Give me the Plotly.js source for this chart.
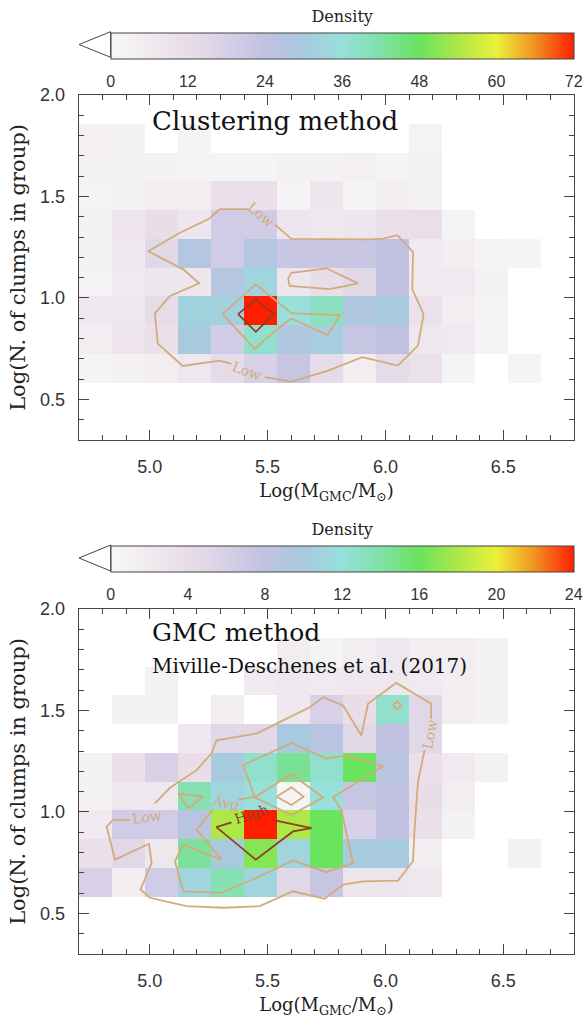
<!DOCTYPE html>
<html><head><meta charset="utf-8">
<script src="https://cdn.plot.ly/plotly-3.0.1.min.js"></script>
<style>body{margin:0;background:#fff}</style>
</head><body><div id="chart" style="width:585px;height:1018px"></div>
<script>
// ---------------- data ----------------
const xEdges = [4.70,4.84,4.98,5.12,5.26,5.40,5.54,5.68,5.82,5.96,6.10,6.24,6.38,6.52,6.66,6.80];
const yEdges = [0.300,0.442,0.583,0.725,0.867,1.008,1.150,1.292,1.433,1.575,1.717,1.858,2.000];
// rows from y=0.30 upward, columns from x=4.70 rightward; null = empty bin
const densityClustering = [
 [null,null,null,null,null,null,null,null,null,null,null,null,null,null,null],
 [null,null,null,null,null,null,null,null,null,null,null,null,null,null,null],
 [2,3,4.5,7.5,13,18,22.5,13,4.5,13,10,1.5,null,1.5,null],
 [4.5,9,10.5,30,19.5,37.5,28,31,22.5,24,7.5,6,2,null,null],
 [7.5,7.5,13,32,32,72,36,39,28,30,10,4.5,1.5,null,null],
 [2.5,6,8,8,27,33,8,12,15,24,6,6,3,null,null],
 [3,7,15,27,19.5,27,22,22,22,24,6,4.5,2,1,null],
 [3,9,12,8,19.5,19.5,8,7.5,8,10.5,11,1.5,null,null,null],
 [2,3,4.5,4.5,10.5,10.5,2,8,1,4.5,3,null,null,null,null],
 [3,3,3,1.5,1.5,2,3,3,3.5,1.5,3,null,null,null,null],
 [3.5,3,null,1.5,null,null,null,null,null,null,2.5,null,null,null,null],
 [null,null,null,null,null,null,null,null,null,null,null,null,null,null,null]
];
const densityGMC = [
 [null,null,null,null,null,null,null,null,null,null,null,null,null,null,null],
 [null,null,null,null,null,null,null,null,null,null,null,null,null,null,null],
 [6,1.5,6.5,11,13.5,11,5,7.5,3,3,2.5,null,null,null,null],
 [3.5,5,2.5,14.3,10,16.8,11,16,10,10,1.5,null,null,1,null],
 [2,6.5,6.5,8.7,18,24,18,16,6,8,3.5,1,null,null,null],
 [1,2.5,2.5,13.5,11,12,0.3,12,7.5,8,4,1.5,null,null,null],
 [1,3.5,6,4,10,12.5,14.5,12.5,16,8.7,3.5,2,1,null,null],
 [null,null,null,2.5,5,5,10,8.7,5,8,5,null,null,null,null],
 [null,1,1,null,1.5,null,2.5,6,4,12.5,5,1.5,1,null,null],
 [null,null,1,null,null,2,2.5,2,2.5,2.5,2,1.5,1,null,null],
 [null,null,null,null,null,null,1.5,0.5,1.5,2.5,1.5,1.5,1,null,null],
 [null,null,null,null,null,null,null,null,null,null,null,null,null,null,null]
];
const cbTicks1 = [0,6,12,18,24,30,36,42,48,54,60,66,72];
const cbLabels1 = ['0','','12','','24','','36','','48','','60','','72'];
const cbTicks2 = [0,2,4,6,8,10,12,14,16,18,20,22,24];
const cbLabels2 = ['0','','4','','8','','12','','16','','20','','24'];

// contour paths (panel 1: clustering method)
const clLowAx = [5.531,5.601,5.933,5.990,6.050,6.117,6.114,6.162,6.138,6.053,5.902,5.757,5.601,5.488];
const clLowAy = [1.361,1.291,1.289,1.292,1.309,1.227,1.042,0.920,0.765,0.667,0.708,0.642,0.588,0.610];
const clLowBx = [5.347,5.297,5.140,5.034,5.022,5.086,5.210,5.142,4.994,5.128,5.252,5.297,5.417];
const clLowBy = [0.675,0.691,0.665,0.775,0.924,1.010,1.072,1.141,1.230,1.321,1.390,1.438,1.438];
const clLowCx = [5.587,5.601,5.750,5.884,5.764,5.594,5.587];
const clLowCy = [1.095,1.124,1.146,1.072,1.043,1.059,1.095];
const clAvgX = [5.309,5.450,5.601,5.806,5.756,5.601,5.523,5.446,5.309];
const clAvgY = [0.920,1.067,0.925,0.915,0.817,0.899,0.830,0.749,0.920];
const clHighX = [5.375,5.450,5.526,5.450,5.375];
const clHighY = [0.920,0.994,0.920,0.833,0.920];

// contour paths (panel 2: GMC method)
const gmLowAx = [5.022,5.086,5.199,5.262,5.283,5.453,5.538,5.679,5.735,5.820,5.898,5.926,6.046,6.194,6.194];
const gmLowAy = [1.042,1.119,1.206,1.288,1.353,1.386,1.435,1.516,1.565,1.525,1.377,1.533,1.636,1.533,1.459];
const gmLowBx = [6.166,6.138,6.124,6.117,6.053,5.905,5.820,5.742,5.608,5.467,5.312,5.156,5.001,4.961,5.008,4.997,4.853,4.817,4.845,4.916];
const gmLowBy = [1.304,1.149,0.920,0.757,0.662,0.658,0.642,0.572,0.609,0.536,0.528,0.536,0.577,0.618,0.748,0.843,0.765,0.928,0.961,0.961];
const gmLowCx = [6.032,6.050,6.068,6.050,6.032];
const gmLowCy = [1.525,1.546,1.525,1.504,1.525];
const gmAvgAx = [5.375,5.446,5.396,5.601,5.749,5.834,5.990,5.778,5.813,5.862,5.749,5.608,5.453,5.305,5.142,5.107,5.142,5.305,5.199,5.269];
const gmAvgAy = [1.059,1.075,1.230,1.340,1.263,1.279,1.225,1.072,1.010,0.748,0.703,0.761,0.675,0.601,0.609,0.757,0.838,0.765,0.912,1.013];
const gmAvgBx = [5.446,5.601,5.735,5.601,5.446];
const gmAvgBy = [1.072,1.186,1.072,0.985,1.072];
const gmAvgCx = [5.538,5.601,5.653,5.601,5.538];
const gmAvgCy = [1.075,1.121,1.075,1.034,1.075];
const gmAvgDx = [5.121,5.226,5.163,5.121];
const gmAvgDy = [1.092,1.075,1.018,1.092];
const gmHighX = [5.347,5.283,5.450,5.608,5.686,5.531];
const gmHighY = [0.949,0.925,0.765,0.904,0.920,0.958];

// ---------------- styling ----------------
const TAN = '#d3ab7b', BROWN = '#8e3f22';
const colorscale = [[0,'#f7f7f7'],[0.1667,'#e9dde8'],[0.25,'#d7d0e6'],[0.3333,'#c0c1e1'],[0.4167,'#a8cadf'],[0.5,'#97e0db'],[0.5833,'#80e0a6'],[0.6667,'#6ae35e'],[0.75,'#aee846'],[0.8333,'#ebf03a'],[0.9167,'#f18f20'],[1,'#ff1e00']];
const clearScale = [[0,'rgba(0,0,0,0)'],[1,'rgba(0,0,0,0)']];
const serif = 'DejaVu Serif';
const tickFont = {family:'Liberation Sans', size:18, color:'#333'};
const cbFont = {family:'Liberation Sans', size:16, color:'#333'};
const CB_SHIFT = 18;
const CB_TITLE = 16;

// main colorbar: gradient + labels (labels pushed down by invisible outer ticks)
function colorbar(barTopPx, vals, labels){
  return {orientation:'h', x:0.064, xanchor:'left', y:1-(barTopPx-CB_SHIFT)/1018, yanchor:'top',
    len:463, lenmode:'pixels', thickness:26, thicknessmode:'pixels', xpad:0, ypad:0,
    outlinewidth:1, outlinecolor:'#444', ticks:'outside', ticklen:9, tickcolor:'rgba(0,0,0,0)',
    tickvals:vals, ticktext:labels, tickfont:cbFont,
    title:{text:'Density', side:'top', font:{family:serif, size:CB_TITLE, color:'#222'}}};
}
// overlay colorbar: transparent bar, draws only the inner tick marks
function tickbar(barTopPx, vals){
  return {orientation:'h', x:0.064, xanchor:'left', y:1-(barTopPx-CB_SHIFT)/1018, yanchor:'top',
    len:463, lenmode:'pixels', thickness:26, thicknessmode:'pixels', xpad:0, ypad:0,
    outlinewidth:0, ticks:'inside', ticklen:5, tickcolor:'#333', tickwidth:1,
    tickvals:vals, showticklabels:false,
    title:{text:'Density', side:'top', font:{family:serif, size:CB_TITLE, color:'rgba(0,0,0,0)'}}};
}
function line(x, y, color, xa, ya){
  return {type:'scatter', mode:'lines', x:x, y:y, xaxis:xa, yaxis:ya,
    line:{color:color, width:1.8}, hoverinfo:'skip', showlegend:false};
}
const data = [
  {type:'heatmap', x:xEdges, y:yEdges, z:densityClustering, zmin:0, zmax:72, colorscale:colorscale,
   xaxis:'x', yaxis:'y', colorbar:colorbar(31.7, cbTicks1, cbLabels1), hoverongaps:false},
  {type:'heatmap', x:xEdges, y:yEdges, z:densityGMC, zmin:0, zmax:24, colorscale:colorscale,
   xaxis:'x2', yaxis:'y2', colorbar:colorbar(545, cbTicks2, cbLabels2), hoverongaps:false},
  {type:'heatmap', x:[4.7,4.8], y:[0.3,0.4], z:[[null]], zmin:0, zmax:72, colorscale:clearScale,
   xaxis:'x', yaxis:'y', colorbar:tickbar(31.7, cbTicks1), hoverinfo:'skip'},
  {type:'heatmap', x:[4.7,4.8], y:[0.3,0.4], z:[[null]], zmin:0, zmax:24, colorscale:clearScale,
   xaxis:'x2', yaxis:'y2', colorbar:tickbar(545, cbTicks2), hoverinfo:'skip'},
  line(clLowAx, clLowAy, TAN, 'x','y'), line(clLowBx, clLowBy, TAN, 'x','y'), line(clLowCx, clLowCy, TAN, 'x','y'),
  line(clAvgX, clAvgY, TAN, 'x','y'), line(clHighX, clHighY, BROWN, 'x','y'),
  line(gmLowAx, gmLowAy, TAN, 'x2','y2'), line(gmLowBx, gmLowBy, TAN, 'x2','y2'), line(gmLowCx, gmLowCy, TAN, 'x2','y2'),
  line(gmAvgAx, gmAvgAy, TAN, 'x2','y2'), line(gmAvgBx, gmAvgBy, TAN, 'x2','y2'), line(gmAvgCx, gmAvgCy, TAN, 'x2','y2'),
  line(gmAvgDx, gmAvgDy, TAN, 'x2','y2'), line(gmHighX, gmHighY, BROWN, 'x2','y2')
];

const axBase = {showgrid:false, zeroline:false, showline:true, mirror:'ticks', linecolor:'#444', linewidth:1.3,
  ticks:'inside', ticklen:10, tickwidth:1, tickcolor:'#444',
  minor:{ticks:'inside', ticklen:5, dtick:0.1, tickcolor:'#444', tickwidth:1, showgrid:false},
  tickfont:tickFont, tickformat:'.1f', dtick:0.5, tick0:0};
const xTitle = {text:'Log(M<sub>GMC</sub>/M<sub>⊙</sub>)', font:{family:serif, size:18, color:'#222'}, standoff:8};
const yTitle = {text:'Log(N. of clumps in group)', font:{family:serif, size:21, color:'#222'}, standoff:8};

function lab(text, x, y, ang, color, xr, yr){
  return {text:text, x:x, y:y, xref:xr, yref:yr, showarrow:false, textangle:ang,
    font:{family:serif, size:14, color:color}};
}
const layout = {
  width:585, height:1018, margin:{l:79, r:11, t:0, b:0},
  paper_bgcolor:'#fff', plot_bgcolor:'#fff', showlegend:false,
  xaxis:Object.assign({}, axBase, {domain:[0,1], anchor:'y', range:[4.7,6.8], title:xTitle, ticklabelstandoff:10}),
  yaxis:Object.assign({}, axBase, {domain:[1-440/1018, 1-95/1018], anchor:'x', range:[0.3,2.0], title:yTitle, ticklabelstandoff:9}),
  xaxis2:Object.assign({}, axBase, {domain:[0,1], anchor:'y2', range:[4.7,6.8], title:xTitle, ticklabelstandoff:10}),
  yaxis2:Object.assign({}, axBase, {domain:[1-954/1018, 1-609/1018], anchor:'x2', range:[0.3,2.0], title:yTitle, ticklabelstandoff:9}),
  shapes:[
    {type:'path', xref:'paper', yref:'paper', path:'M 0.064 '+(1-31.7/1018)+' L 0 '+(1-44.5/1018)+' L 0.064 '+(1-57.3/1018)+' Z', fillcolor:'#fff', line:{color:'#444', width:1}},
    {type:'path', xref:'paper', yref:'paper', path:'M 0.064 '+(1-545/1018)+' L 0 '+(1-558/1018)+' L 0.064 '+(1-571/1018)+' Z', fillcolor:'#fff', line:{color:'#444', width:1}}
  ],
  annotations:[
    {text:'Clustering method', xref:'paper', yref:'paper', x:(150-79)/495, y:1-121/1018, xanchor:'left', yanchor:'middle', showarrow:false, font:{family:serif, size:26, color:'#111'}},
    {text:'GMC method', xref:'paper', yref:'paper', x:(150-79)/495, y:1-632/1018, xanchor:'left', yanchor:'middle', showarrow:false, font:{family:serif, size:25, color:'#111'}},
    {text:'Miville-Deschenes et al. (2017)', xref:'paper', yref:'paper', x:(150-79)/495, y:1-666/1018, xanchor:'left', yanchor:'middle', showarrow:false, font:{family:serif, size:20, color:'#111'}},
    lab('Low', 5.474, 1.410, 40, TAN, 'x', 'y'),
    lab('Low', 5.413, 0.642, 20, TAN, 'x', 'y'),
    lab('Low', 4.987, 0.974, -8, TAN, 'x2', 'y2'),
    lab('Low', 6.187, 1.380, -80, TAN, 'x2', 'y2'),
    lab('Avg', 5.323, 1.046, 12, TAN, 'x2', 'y2'),
    lab('High', 5.432, 0.990, -18, BROWN, 'x2', 'y2')
  ]
};
Plotly.newPlot('chart', data, layout, {displayModeBar:false, staticPlot:true});
</script></body></html>
